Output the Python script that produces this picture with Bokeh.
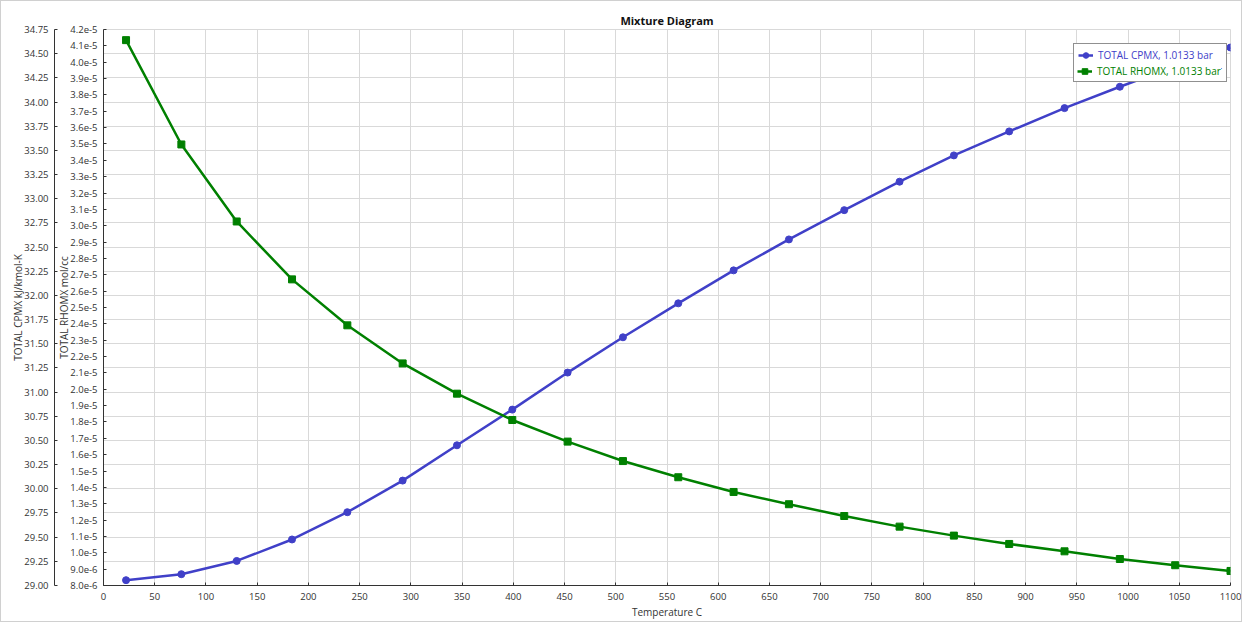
from bokeh.plotting import figure
from bokeh.models import (Range1d, LinearAxis, SingleIntervalTicker, Grid,
                          CustomJSTickFormatter, PrintfTickFormatter, Legend, LegendItem)
from bokeh.embed import file_html
from bokeh.resources import INLINE

# ---- data ----
temperature = [22, 76, 130, 184, 238, 292, 345, 399, 453, 507, 561,
               615, 669, 723, 777, 830, 884, 938, 992, 1046, 1100]
cpmx = [29.055, 29.117, 29.254, 29.476, 29.758, 30.085, 30.450, 30.819, 31.202, 31.567, 31.918,
        32.259, 32.579, 32.882, 33.176, 33.448, 33.696, 33.937, 34.158, 34.368, 34.564]
rhomx = [4.135e-5, 3.497e-5, 3.026e-5, 2.672e-5, 2.391e-5, 2.158e-5, 1.973e-5, 1.812e-5,
         1.680e-5, 1.561e-5, 1.462e-5, 1.372e-5, 1.297e-5, 1.225e-5, 1.160e-5, 1.105e-5,
         1.054e-5, 1.009e-5, 9.62e-6, 9.24e-6, 8.89e-6]
cp_label = "TOTAL CPMX, 1.0133 bar"
rho_label = "TOTAL RHOMX, 1.0133 bar"

BLUE = "#4040C8"
GREEN = "#008000"
FONT = "Open Sans"
TXT = "#333333"
GRID = "#D9D9D9"

W, H = 1242, 622
p = figure(width=W, height=H, output_backend="svg", toolbar_location=None,
           x_range=Range1d(0, 1100), y_range=Range1d(8e-6, 4.2e-5),
           min_border_left=102, min_border_right=13, min_border_top=28, min_border_bottom=38,
           title="Mixture Diagram")
p.styles = {"border": "1px solid #d0d0d0", "box-sizing": "border-box"}
p.title.align = "center"
p.title.text_font = FONT
p.title.text_font_size = "11px"
p.title.text_font_style = "bold"
p.title.text_color = "#111111"
p.title.standoff = 4
p.outline_line_color = GRID

p.extra_y_ranges = {"cp": Range1d(29.0, 34.75)}

def style_axis(ax):
    ax.major_label_text_font = FONT
    ax.major_label_text_font_size = "9.5px"
    ax.major_label_text_color = TXT
    ax.axis_label_text_font = FONT
    ax.axis_label_text_font_size = "10px"
    ax.axis_label_text_font_style = "normal"
    ax.axis_label_text_color = TXT
    ax.axis_line_color = "#333333"
    ax.major_tick_line_color = "#333333"
    ax.major_tick_in = 3
    ax.major_tick_out = 0
    ax.minor_tick_line_color = None
    ax.major_label_standoff = 2
    ax.axis_label_standoff = -4

# x axis
xax = p.xaxis[0]
xax.ticker = SingleIntervalTicker(interval=50)
xax.axis_label = "Temperature C"
style_axis(xax)
xax.major_label_standoff = 3
xax.axis_label_standoff = 2

# inner left axis (RHOMX)
yax = p.yaxis[0]
yax.ticker = SingleIntervalTicker(interval=1e-6)
yax.axis_label = "TOTAL RHOMX mol/cc"
yax.formatter = CustomJSTickFormatter(code="""
const k = Math.round(tick / 1e-6 * 10) / 10;
if (k >= 10) { return (k / 10).toFixed(1) + 'e-5'; }
return k.toFixed(1) + 'e-6';
""")
style_axis(yax)

# outer left axis (CPMX)
cax = LinearAxis(y_range_name="cp", axis_label="TOTAL CPMX kJ/kmol-K",
                 ticker=SingleIntervalTicker(interval=0.25),
                 formatter=PrintfTickFormatter(format="%.2f"))
style_axis(cax)
p.add_layout(cax, "left")

# grids
p.xgrid.ticker = SingleIntervalTicker(interval=50)
p.xgrid.grid_line_color = GRID
p.ygrid.visible = False
hgrid = Grid(dimension=1, ticker=SingleIntervalTicker(interval=0.25), y_range_name="cp",
             grid_line_color=GRID)
p.add_layout(hgrid)

# series
l1 = p.line(temperature, cpmx, y_range_name="cp", line_color=BLUE, line_width=2.5)
m1 = p.scatter(temperature, cpmx, y_range_name="cp", marker="circle", size=7,
               fill_color=BLUE, line_color=BLUE)
l2 = p.line(temperature, rhomx, line_color=GREEN, line_width=2.5)
m2 = p.scatter(temperature, rhomx, marker="square", size=7, fill_color=GREEN, line_color=GREEN)

# legend (box with both entries, second entry re-drawn in green text on top)
frame_w = W - 102 - 13
frame_h = H - 28 - 38
pad = 4
gh = 14
sp = 1
lw = 156
lh = 2 * pad + 2 * gh + sp
lx = frame_w - lw - 1
ly = frame_h - 16 - lh

def mk_legend(items, loc, padding, color, border, bg_alpha):
    lg = Legend(items=items, location=loc, padding=padding, spacing=sp, margin=0,
                glyph_width=15, glyph_height=gh, label_height=gh, label_standoff=5,
                label_text_font=FONT, label_text_font_size="10px", label_text_color=color,
                border_line_color=border, border_line_width=1,
                background_fill_color="white", background_fill_alpha=bg_alpha)
    return lg

leg_a = mk_legend([LegendItem(label=cp_label, renderers=[l1, m1]),
                   LegendItem(label=rho_label, renderers=[l2, m2])],
                  (lx, ly), pad, BLUE, "#222222", 1.0)
leg_b = mk_legend([LegendItem(label=rho_label, renderers=[l2, m2])],
                  (lx + pad, ly + pad), 0, GREEN, None, 1.0)
p.add_layout(leg_a, "center")
p.add_layout(leg_b, "center")

open("out.html", "w").write(file_html(p, INLINE))
